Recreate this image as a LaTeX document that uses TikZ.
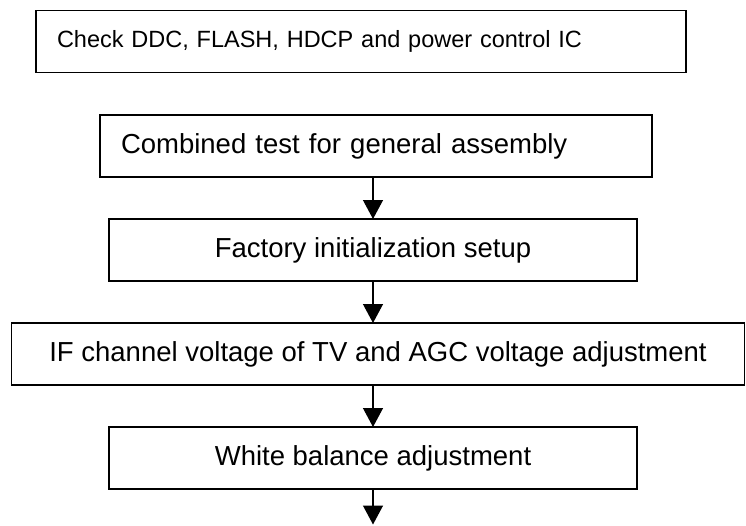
\documentclass[tikz,border=0pt]{standalone}
\usepackage{fontspec}
\setmainfont{Liberation Sans}
\usetikzlibrary{arrows.meta}

\tikzset{
  x=1pt, y=-1pt,
  stepbox/.style={draw, line width=1.4pt, rectangle, minimum height=62pt,
    inner ysep=0pt, outer sep=0pt, font=\fontsize{27.5}{32}\selectfont},
  leftbox/.style={stepbox, align=left, inner xsep=21pt, text width=#1-42pt},
  midbox/.style={stepbox, align=center, inner xsep=0pt, minimum width=#1},
  flow/.style={line width=1.3pt, -{Triangle[width=20pt,length=19pt]}}
}

\begin{document}
\begin{tikzpicture}
  \useasboundingbox (0,0) rectangle (746,525);

  % process steps
  \node[leftbox=650pt, font=\fontsize{23.5}{28}\selectfont] (b1) at (361,41.7)
    {Check DDC, FLASH, HDCP and power control IC};
  \node[leftbox=552pt] (b2) at (376,146) {Combined test for general assembly};
  \node[midbox=528pt] (b3) at (373,250) {Factory initialization setup};
  \node[midbox=733pt] (b4) at (378,354)
    {IF channel voltage of TV and AGC voltage adjustment};
  \node[midbox=528pt] (b5) at (373,458) {White balance adjustment};
  \coordinate (next) at (373,524.5);

  % connectors
  \draw[flow] (b3.north |- b2.south) -- (b3.north);
  \draw[flow] (b3.south) -- (b3.south |- b4.north);
  \draw[flow] (b5.north |- b4.south) -- (b5.north);
  \draw[flow] (b5.south) -- (next);
\end{tikzpicture}
\end{document}
